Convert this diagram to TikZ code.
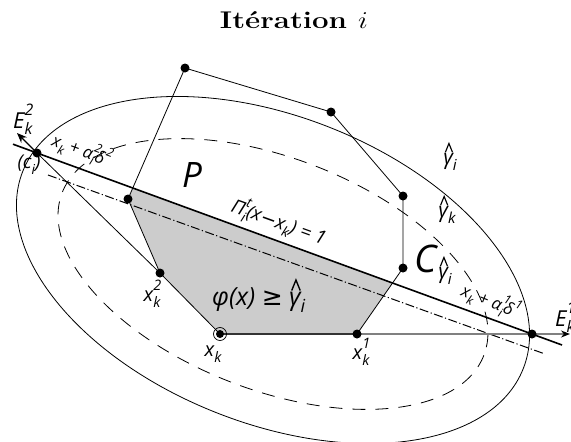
\documentclass[tikz,border=0pt]{standalone}
\usepackage{fontspec}
\usepackage{graphicx}
\usetikzlibrary{arrows.meta}
\newfontfamily\labf{Open Sans}
\newfontfamily\dv{DejaVu Sans}
\newcommand\lsub[1]{\raisebox{-0.3em}{\scalebox{0.72}{#1}}}
\newcommand\lsup[1]{\raisebox{0.55em}{\scalebox{0.72}{#1}}}
\newcommand\sbp[2]{\makebox[0pt][l]{\lsup{#1}}\lsub{#2}}
\newcommand\hatmark{\tikz[baseline=0pt,x=1em,y=1em]\draw[line width=0.055em,line join=miter] (0,0.58) -- (0.17,1.0) -- (0.34,0.58);}
\newcommand\hg[1]{\ooalign{γ\cr\hidewidth\kern0.08em\hatmark\hidewidth\cr}\lsub{#1}}
\begin{document}
\begin{tikzpicture}[x=1pt,y=-1pt,
  dot/.style={circle,fill=black,inner sep=0pt,minimum size=9pt},
  lab/.style={font=\labf\itshape\fontsize{20}{22}\selectfont, inner sep=0pt},
  thinl/.style={line width=0.8pt},
  cutl/.style={line width=1.6pt},
  dashdot/.style={line width=1pt,dash pattern=on 9pt off 2.5pt on 1.2pt off 2.5pt},
  dashel/.style={line width=0.8pt,dash pattern=on 13pt off 10pt}
]
\useasboundingbox (0,0) rectangle (571,442);

% points
\coordinate (L) at (37,153);
\coordinate (R) at (532,334);
\coordinate (A) at (128,199);
\coordinate (T) at (185,68);
\coordinate (B) at (331,112);
\coordinate (D) at (403,196);
\coordinate (F) at (403,268);
\coordinate (X2) at (160,273);
\coordinate (X1) at (357,334);
\coordinate (XK) at (220,334);
\coordinate (CL) at (13,144.2);
\coordinate (CR) at (562,345);
\coordinate (DL) at (48,175);
\coordinate (DR) at (545,354);
\coordinate (E2) at (17,133);
\coordinate (E1) at (570,334);

% shaded region
\fill[gray!40] (intersection of CL--CR and A--T) -- (A) -- (X2) -- (XK) -- (X1)
  -- (intersection of CL--CR and F--X1) -- cycle;

% ellipses
\draw[thinl, rotate around={-21.5:(273,270)}] (273,270) ellipse [x radius=269, y radius=153.5];
\draw[dashel, rotate around={-21.1:(273,274)}] (273,274) ellipse [x radius=226, y radius=116];

% dash-dot line
\draw[dashdot] (DL) -- (DR);

% polygon
\draw[thinl] (A) -- (T) -- (B) -- (D) -- (F) -- (X1);
\draw[thinl] (XK) -- (X2) -- (A);
\draw[thinl] (L) -- (X2);
\draw[line width=2.2pt, black!80] (XK) -- (X1);
\draw[line width=1.3pt, black!50, -{Stealth[length=9pt,width=7pt,black]}] (X1) -- (E1);

% cut line
\draw[cutl] (CL) -- (CR);
\draw[line width=1.2pt, -{Stealth[length=10pt,width=8pt]}] (L) -- (E2);

% dots
\foreach \p in {L,R,A,T,B,D,F,X2,X1} \node[dot] at (\p) {};
\node[circle,draw,line width=0.7pt,inner sep=0pt,minimum size=13pt] (xkring) at (XK) {};
\node[dot,minimum size=8pt] (xkdot) at (XK) {};

% title
\node[anchor=base, inner sep=0pt] (title) at (294,28) {\resizebox{148pt}{17pt}{\fontsize{12}{14}\selectfont\bfseries Itération $i$}};

% labels
\node[lab, font=\labf\itshape\fontsize{22}{24}\selectfont, anchor=base west] (lE2) at (13,128) {E\sbp{2}{k}};
\node[lab, font=\labf\itshape\fontsize{22}{24}\selectfont, anchor=base west] (lE1) at (555,326) {E\sbp{1}{k}};
\node[lab, font=\labf\itshape\fontsize{19}{22}\selectfont] (lc) at (29,165) {(c\lsub{i})};
\node[lab, font=\labf\itshape\fontsize{17}{20}\selectfont, rotate=-20] (la2) at (82,150) {x\lsub{k} + α\sbp{2}{i}δ\lsup{2}};
\node[lab, font=\labf\itshape\fontsize{17}{20}\selectfont, rotate=-22] (la1) at (491,301) {x\lsub{k} + α\sbp{1}{i}δ\lsup{1}};
\node[lab, font=\labf\itshape\fontsize{19}{22}\selectfont, rotate=-20] (lpi) at (279,222) {Π\sbp{t}{i}(x{\dv −}x\lsub{k}) = 1};
\node[lab, font=\labf\itshape\fontsize{35}{38}\selectfont, anchor=base west] (lP) at (182,187) {P};
\node[lab, font=\labf\itshape\fontsize{38}{40}\selectfont, anchor=base west] (lC) at (414,272) {C};
\node[lab, font=\labf\itshape\fontsize{25}{27}\selectfont, anchor=base west] (lphi) at (212,305) {φ(x) {\dv ≥} \hg{i}};
\node[lab, font=\labf\itshape\fontsize{21}{23}\selectfont] (lg1) at (450,162) {\hg{i}};
\node[lab, font=\labf\itshape\fontsize{21}{23}\selectfont] (lg2) at (447,215) {\hg{k}};
\node[lab, font=\labf\itshape\fontsize{21}{23}\selectfont] (lg3) at (445,276) {\hg{i}};
\node[lab] (lx2) at (152,294) {x\sbp{2}{k}};
\node[lab] (lxk) at (213,354) {x\lsub{k}};
\node[lab] (lx1) at (361,352) {x\sbp{1}{k}};
\end{tikzpicture}
\end{document}
